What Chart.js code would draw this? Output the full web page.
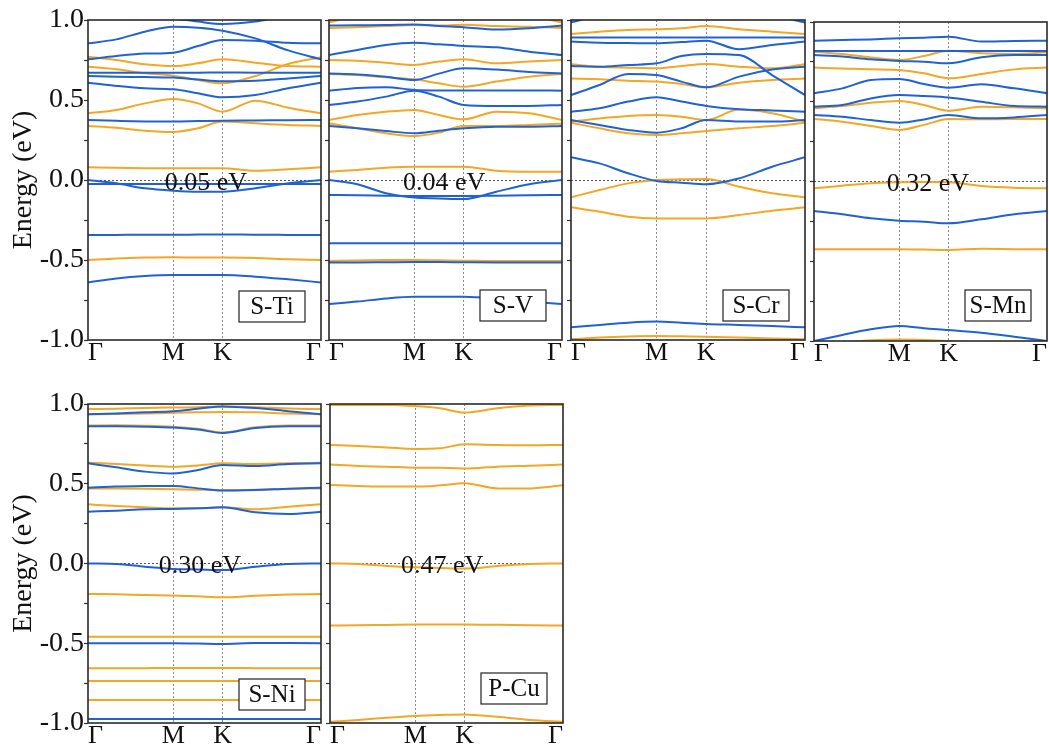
<!DOCTYPE html>
<html>
<head>
<meta charset="utf-8">
<title>Band structures</title>
<script src="https://cdn.jsdelivr.net/npm/chart.js@4.4.1/dist/chart.umd.min.js"></script>
<style>
  html, body { margin: 0; padding: 0; background: #fff; }
  body { width: 1049px; height: 747px; position: relative; overflow: hidden; }
  canvas { position: absolute; }
</style>
</head>
<body>
<script>
// k-path Γ–M–K–Γ of the hexagonal Brillouin zone (path length units)
const kPath = [0, 0.192, 0.385, 0.577, 0.744, 0.911, 1.133, 1.355, 1.577];
const kTicks = [0, 0.577, 0.911, 1.577];
const kLabels = ['Γ', 'M', 'K', 'Γ'];
const energyTicks = [-1, -0.75, -0.5, -0.25, 0, 0.25, 0.5, 0.75, 1];

// S-Ti
const tiUp = [
  [1.06, 1.05, 1.03, 1.01, 0.99, 0.975, 0.99, 1.03, 1.06],
  [0.854, 0.879, 0.927, 0.958, 0.952, 0.933, 0.885, 0.81, 0.754],
  [0.754, 0.775, 0.79, 0.796, 0.837, 0.875, 0.871, 0.858, 0.854],
  [0.671, 0.671, 0.671, 0.671, 0.671, 0.672, 0.671, 0.671, 0.671],
  [0.65, 0.645, 0.643, 0.64, 0.628, 0.617, 0.62, 0.635, 0.65],
  [0.608, 0.588, 0.573, 0.567, 0.542, 0.517, 0.531, 0.573, 0.608],
  [0.375, 0.37, 0.366, 0.365, 0.368, 0.371, 0.372, 0.374, 0.375],
  [0.0, -0.021, -0.052, -0.067, -0.073, -0.073, -0.052, -0.021, 0.0],
  [-0.025, -0.025, -0.025, -0.025, -0.025, -0.025, -0.025, -0.025, -0.025],
  [-0.344, -0.343, -0.342, -0.342, -0.341, -0.34, -0.342, -0.343, -0.344],
  [-0.64, -0.615, -0.6, -0.594, -0.594, -0.594, -0.604, -0.621, -0.64]
];
const tiDown = [
  [0.771, 0.75, 0.723, 0.712, 0.729, 0.754, 0.733, 0.712, 0.708],
  [0.708, 0.692, 0.667, 0.652, 0.625, 0.604, 0.65, 0.725, 0.767],
  [0.417, 0.438, 0.479, 0.506, 0.479, 0.427, 0.496, 0.452, 0.417],
  [0.338, 0.327, 0.308, 0.3, 0.323, 0.365, 0.354, 0.344, 0.338],
  [0.079, 0.076, 0.074, 0.073, 0.073, 0.073, 0.058, 0.067, 0.079],
  [-0.5, -0.49, -0.485, -0.483, -0.485, -0.485, -0.488, -0.495, -0.5]
];

// S-V
const vUp = [
  [0.965, 0.967, 0.968, 0.972, 0.962, 0.955, 0.94, 0.948, 0.965],
  [0.781, 0.813, 0.844, 0.858, 0.848, 0.838, 0.829, 0.802, 0.781],
  [0.665, 0.66, 0.645, 0.625, 0.665, 0.698, 0.69, 0.675, 0.665],
  [0.558, 0.575, 0.58, 0.563, 0.56, 0.56, 0.56, 0.56, 0.558],
  [0.469, 0.49, 0.521, 0.558, 0.521, 0.469, 0.463, 0.463, 0.469],
  [0.338, 0.323, 0.306, 0.292, 0.308, 0.323, 0.333, 0.333, 0.338],
  [0.0, -0.027, -0.083, -0.11, -0.115, -0.119, -0.073, -0.027, 0.0],
  [-0.094, -0.095, -0.098, -0.1, -0.1, -0.1, -0.098, -0.095, -0.094],
  [-0.396, -0.396, -0.396, -0.396, -0.396, -0.396, -0.396, -0.396, -0.396],
  [-0.515, -0.515, -0.514, -0.513, -0.513, -0.514, -0.515, -0.515, -0.515],
  [-0.775, -0.76, -0.74, -0.729, -0.729, -0.729, -0.74, -0.76, -0.775]
];
const vDown = [
  [0.985, 1.03, 1.06, 1.07, 1.07, 1.07, 1.06, 1.03, 0.985],
  [0.95, 0.955, 0.962, 0.968, 0.965, 0.97, 0.962, 0.958, 0.95],
  [0.75, 0.746, 0.733, 0.719, 0.74, 0.754, 0.729, 0.74, 0.75],
  [0.663, 0.656, 0.642, 0.629, 0.604, 0.583, 0.615, 0.646, 0.663],
  [0.375, 0.406, 0.427, 0.438, 0.406, 0.379, 0.427, 0.417, 0.375],
  [0.354, 0.323, 0.292, 0.275, 0.296, 0.338, 0.338, 0.344, 0.352],
  [0.052, 0.063, 0.077, 0.083, 0.083, 0.083, 0.058, 0.052, 0.052],
  [-0.506, -0.503, -0.5, -0.5, -0.502, -0.504, -0.506, -0.506, -0.506]
];

// S-Cr
const crUp = [
  [0.985, 1.03, 1.06, 1.07, 1.07, 1.07, 1.06, 1.03, 0.985],
  [0.89, 0.89, 0.89, 0.89, 0.89, 0.89, 0.89, 0.89, 0.89],
  [0.865, 0.858, 0.856, 0.854, 0.862, 0.871, 0.817, 0.844, 0.865],
  [0.713, 0.708, 0.719, 0.729, 0.775, 0.788, 0.781, 0.656, 0.531],
  [0.531, 0.594, 0.663, 0.656, 0.615, 0.579, 0.646, 0.69, 0.708],
  [0.427, 0.448, 0.49, 0.517, 0.49, 0.463, 0.442, 0.435, 0.427],
  [0.375, 0.344, 0.313, 0.296, 0.323, 0.375, 0.365, 0.365, 0.375],
  [0.142, 0.104, 0.042, -0.006, -0.017, -0.027, 0.01, 0.083, 0.142],
  [-0.921, -0.906, -0.892, -0.885, -0.892, -0.9, -0.906, -0.913, -0.921]
];
const crDown = [
  [0.913, 0.927, 0.938, 0.942, 0.948, 0.963, 0.942, 0.927, 0.913],
  [0.723, 0.708, 0.702, 0.698, 0.713, 0.725, 0.708, 0.698, 0.723],
  [0.635, 0.629, 0.621, 0.615, 0.6, 0.579, 0.608, 0.625, 0.635],
  [0.365, 0.385, 0.4, 0.406, 0.396, 0.375, 0.44, 0.417, 0.365],
  [0.358, 0.323, 0.292, 0.281, 0.292, 0.306, 0.323, 0.337, 0.358],
  [-0.108, -0.063, -0.021, 0.0, 0.004, 0.006, -0.042, -0.083, -0.108],
  [-0.171, -0.198, -0.229, -0.24, -0.24, -0.24, -0.219, -0.192, -0.171],
  [-0.996, -0.985, -0.978, -0.975, -0.977, -0.979, -0.985, -0.99, -0.996]
];

// S-Mn
const mnUp = [
  [0.883, 0.887, 0.891, 0.898, 0.902, 0.908, 0.877, 0.881, 0.883],
  [0.818, 0.818, 0.818, 0.818, 0.818, 0.818, 0.818, 0.818, 0.818],
  [0.793, 0.783, 0.766, 0.756, 0.751, 0.741, 0.779, 0.793, 0.793],
  [0.553, 0.584, 0.636, 0.643, 0.611, 0.588, 0.609, 0.584, 0.553],
  [0.469, 0.48, 0.521, 0.542, 0.536, 0.527, 0.5, 0.473, 0.469],
  [0.417, 0.406, 0.385, 0.368, 0.389, 0.417, 0.396, 0.402, 0.417],
  [-0.185, -0.206, -0.231, -0.246, -0.252, -0.262, -0.237, -0.206, -0.185],
  [-1.0, -0.962, -0.927, -0.906, -0.92, -0.931, -0.948, -0.973, -1.0]
];
const mnDown = [
  [0.814, 0.799, 0.778, 0.762, 0.787, 0.82, 0.804, 0.799, 0.81],
  [0.714, 0.709, 0.703, 0.699, 0.678, 0.647, 0.674, 0.703, 0.714],
  [0.459, 0.473, 0.494, 0.505, 0.48, 0.444, 0.469, 0.465, 0.459],
  [0.392, 0.375, 0.348, 0.323, 0.355, 0.392, 0.39, 0.392, 0.392],
  [-0.043, -0.026, -0.011, -0.005, -0.003, -0.005, -0.028, -0.039, -0.043],
  [-0.425, -0.425, -0.425, -0.425, -0.427, -0.429, -0.422, -0.424, -0.425],
  [-1.03, -1.01, -0.995, -0.99, -0.993, -1.0, -1.01, -1.02, -1.03]
];

// S-Ni
const niUp = [
  [0.935, 0.94, 0.948, 0.955, 0.97, 0.985, 0.975, 0.955, 0.935],
  [0.86, 0.861, 0.858, 0.852, 0.84, 0.818, 0.85, 0.86, 0.86],
  [0.628, 0.603, 0.576, 0.565, 0.586, 0.618, 0.611, 0.624, 0.628],
  [0.475, 0.482, 0.486, 0.486, 0.471, 0.457, 0.461, 0.469, 0.475],
  [0.325, 0.331, 0.34, 0.342, 0.346, 0.352, 0.321, 0.31, 0.325],
  [0.0, -0.003, -0.02, -0.034, -0.037, -0.041, -0.02, -0.003, 0.0],
  [-0.5, -0.5, -0.5, -0.5, -0.502, -0.504, -0.498, -0.499, -0.5],
  [-0.975, -0.975, -0.975, -0.975, -0.975, -0.975, -0.975, -0.975, -0.975]
];
const niDown = [
  [0.968, 0.97, 0.975, 0.978, 0.98, 0.985, 0.98, 0.972, 0.968],
  [0.935, 0.937, 0.94, 0.945, 0.948, 0.95, 0.948, 0.94, 0.935],
  [0.865, 0.866, 0.864, 0.858, 0.845, 0.822, 0.855, 0.865, 0.865],
  [0.632, 0.624, 0.615, 0.607, 0.615, 0.628, 0.624, 0.628, 0.632],
  [0.471, 0.47, 0.468, 0.465, 0.463, 0.46, 0.462, 0.467, 0.471],
  [0.371, 0.36, 0.352, 0.346, 0.346, 0.352, 0.34, 0.356, 0.371],
  [-0.191, -0.193, -0.198, -0.2, -0.206, -0.212, -0.202, -0.195, -0.191],
  [-0.459, -0.459, -0.459, -0.459, -0.459, -0.459, -0.459, -0.459, -0.459],
  [-0.657, -0.657, -0.656, -0.655, -0.655, -0.655, -0.656, -0.657, -0.657],
  [-0.737, -0.737, -0.737, -0.737, -0.737, -0.737, -0.737, -0.737, -0.737],
  [-0.856, -0.856, -0.856, -0.856, -0.856, -0.856, -0.856, -0.856, -0.856]
];

// P-Cu (spin-degenerate)
const cuBands = [
  [0.994, 0.994, 0.994, 0.987, 0.973, 0.946, 0.973, 0.99, 0.994],
  [0.743, 0.737, 0.728, 0.718, 0.722, 0.747, 0.743, 0.741, 0.743],
  [0.62, 0.611, 0.607, 0.601, 0.601, 0.595, 0.607, 0.613, 0.62],
  [0.492, 0.486, 0.482, 0.482, 0.49, 0.503, 0.471, 0.471, 0.49],
  [0.0, -0.003, -0.016, -0.024, -0.028, -0.032, -0.016, -0.003, 0.0],
  [-0.389, -0.387, -0.385, -0.383, -0.382, -0.382, -0.384, -0.387, -0.389],
  [-0.992, -0.981, -0.967, -0.956, -0.95, -0.946, -0.961, -0.981, -0.992]
];

const SPIN_UP = '#1f62d8';
const SPIN_DN = '#f5a623';
const SERIF = "'Liberation Serif', 'Times New Roman', serif";
const INK = '#111';

// Canvas placement of each panel
const panels = [
  { tag: 'S-Ti', up: tiUp,  dn: tiDown, gap: '0.05 eV', gapX: 0.506, left: 0,   top: 0,   padTop: 20, yW: 88, plotW: 233, plotH: 320, xH: 40, labels: true,  tagBottom: 18 },
  { tag: 'S-V',  up: vUp,   dn: vDown,  gap: '0.04 eV', gapX: 0.494, left: 320, top: 0,   padTop: 20, yW: 9,  plotW: 233, plotH: 320, xH: 40, labels: false, tagBottom: 19 },
  { tag: 'S-Cr', up: crUp,  dn: crDown, gap: null,      gapX: 0.5,   left: 562, top: 0,   padTop: 20, yW: 9,  plotW: 234, plotH: 320, xH: 40, labels: false, tagBottom: 19 },
  { tag: 'S-Mn', up: mnUp,  dn: mnDown, gap: '0.32 eV', gapX: 0.489, left: 805, top: 0,   padTop: 22, yW: 9,  plotW: 233, plotH: 319, xH: 40, labels: false, tagBottom: 20 },
  { tag: 'S-Ni', up: niUp,  dn: niDown, gap: '0.30 eV', gapX: 0.48,  left: 0,   top: 384, padTop: 20, yW: 88, plotW: 233, plotH: 319, xH: 24, labels: true,  tagBottom: 13 },
  { tag: 'P-Cu', up: [],    dn: cuBands, gap: '0.47 eV', gapX: 0.481, left: 321, top: 384, padTop: 20, yW: 9, plotW: 233, plotH: 319, xH: 24, labels: false, tagBottom: 19 }
];

function bandDatasets(bands, color) {
  return bands.map(b => ({
    data: b.map((e, i) => ({ x: kPath[i], y: e })),
    borderColor: color,
    borderWidth: 2,
    pointRadius: 0,
    fill: false,
    cubicInterpolationMode: 'monotone'
  }));
}

// Frame, gap annotation and material tag
const panelDecor = {
  id: 'panelDecor',
  afterDatasetsDraw(chart, args, opts) {
    const { ctx, chartArea: a } = chart;
    const y = chart.scales.y;
    ctx.save();
    ctx.strokeStyle = '#2a2a2a';
    ctx.lineWidth = 1.6;
    ctx.strokeRect(a.left, a.top, a.width, a.height);
    ctx.fillStyle = INK;
    ctx.textAlign = 'center';
    ctx.textBaseline = 'middle';
    if (opts.gap) {
      ctx.font = '26px ' + SERIF;
      ctx.fillText(opts.gap, a.left + opts.gapX * a.width, y.getPixelForValue(0) + 3);
    }
    const bw = 66, bh = 31;
    const bx = a.right - 16 - bw;
    const by = a.bottom - opts.tagBottom - bh;
    ctx.fillStyle = '#fff';
    ctx.fillRect(bx, by, bw, bh);
    ctx.strokeStyle = '#222';
    ctx.lineWidth = 1.2;
    ctx.strokeRect(bx, by, bw, bh);
    ctx.fillStyle = INK;
    ctx.font = '25px ' + SERIF;
    ctx.fillText(opts.tag, bx + bw / 2, by + bh / 2 + 1);
    ctx.restore();
  }
};

panels.forEach(p => {
  const cv = document.createElement('canvas');
  const w = p.yW + p.plotW + 4;
  const h = p.padTop + p.plotH + p.xH;
  cv.width = w;
  cv.height = h;
  cv.style.left = p.left + 'px';
  cv.style.top = p.top + 'px';
  document.body.appendChild(cv);

  new Chart(cv, {
    type: 'line',
    data: { datasets: [...bandDatasets(p.up, SPIN_UP), ...bandDatasets(p.dn, SPIN_DN)] },
    options: {
      responsive: false,
      animation: false,
      devicePixelRatio: 1,
      events: [],
      layout: { padding: { top: p.padTop, right: 4, left: 0, bottom: 0 } },
      plugins: {
        legend: { display: false },
        tooltip: { enabled: false },
        panelDecor: { gap: p.gap, gapX: p.gapX, tag: p.tag, tagBottom: p.tagBottom }
      },
      scales: {
        x: {
          type: 'linear',
          min: kTicks[0],
          max: kTicks[kTicks.length - 1],
          afterBuildTicks: s => { s.ticks = kTicks.map(v => ({ value: v })); },
          afterFit: s => { s.height = p.xH; s.paddingLeft = 0; s.paddingRight = 0; },
          ticks: {
            callback: (v, i) => kLabels[i],
            align: 'inner',
            autoSkip: false,
            maxRotation: 0,
            padding: 0,
            color: INK,
            font: { family: SERIF, size: 26, lineHeight: 1 }
          },
          grid: {
            color: c => (c.index === 1 || c.index === 2) ? '#8c8c8c' : 'rgba(0,0,0,0)',
            lineWidth: 1,
            drawTicks: false
          },
          border: { display: false, dash: [2, 2] }
        },
        y: {
          type: 'linear',
          min: -1,
          max: 1,
          afterBuildTicks: s => { s.ticks = energyTicks.map(v => ({ value: v })); },
          afterFit: s => { s.width = p.yW; s.paddingTop = 0; s.paddingBottom = 0; },
          ticks: {
            display: p.labels,
            callback: v => (Math.abs(v * 2 - Math.round(v * 2)) < 1e-6 ? v.toFixed(1) : ''),
            autoSkip: false,
            padding: 0,
            color: INK,
            font: { family: SERIF, size: 28 }
          },
          title: {
            display: p.labels,
            text: 'Energy (eV)',
            color: INK,
            font: { family: SERIF, size: 28 },
            padding: { top: 7, bottom: 0 }
          },
          grid: {
            color: c => (c.tick && Math.abs(c.tick.value) < 1e-9) ? '#555' : 'rgba(0,0,0,0)',
            lineWidth: 1,
            tickColor: '#333',
            tickLength: 4,
            tickWidth: 1.2
          },
          border: { display: false, dash: [2, 2] }
        }
      }
    },
    plugins: [panelDecor]
  });
});
</script>
</body>
</html>
